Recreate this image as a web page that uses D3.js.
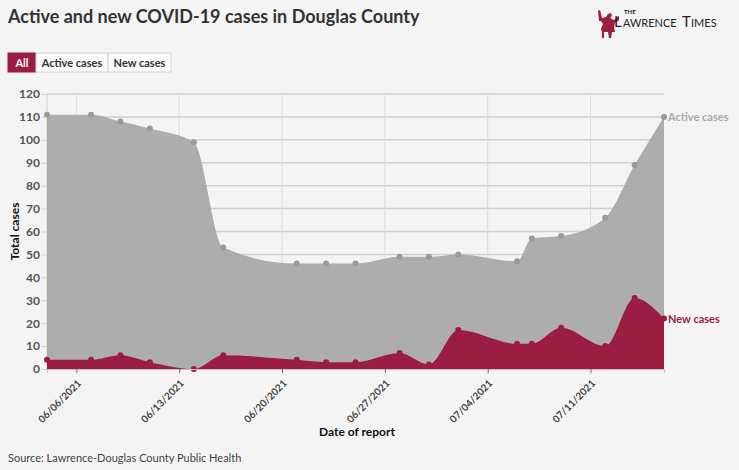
<!DOCTYPE html>
<html>
<head>
<meta charset="utf-8">
<script src="https://cdn.jsdelivr.net/npm/d3@7"></script>
<style>
  body { margin: 0; background: #f4f4f4; font-family: Lato, "Noto Sans", sans-serif; }
  svg text { font-family: Lato, "Noto Sans", sans-serif; }
</style>
</head>
<body>
<svg id="chart"></svg>
<script>
const dates = ["2021-06-04", "2021-06-07", "2021-06-09", "2021-06-11", "2021-06-14", "2021-06-16",
  "2021-06-21", "2021-06-23", "2021-06-25", "2021-06-28", "2021-06-30", "2021-07-02",
  "2021-07-06", "2021-07-07", "2021-07-09", "2021-07-12", "2021-07-14", "2021-07-16"];
const activeCases = [111, 111, 108, 105, 99, 53, 46, 46, 46, 49, 49, 50, 47, 57, 58, 66, 89, 110];
const newCases = [4, 4, 6, 3, 0, 6, 4, 3, 3, 7, 2, 17, 11, 11, 18, 10, 31, 22];
const xTicks = ["2021-06-06", "2021-06-13", "2021-06-20", "2021-06-27", "2021-07-04", "2021-07-11"];
const yTicks = [0, 10, 20, 30, 40, 50, 60, 70, 80, 90, 100, 110, 120];
const buttons = ["All", "Active cases", "New cases"];

const RED = "#9b1d42";
const GREY = "#a9a9a9";

const svg = d3.select("#chart")
svg.attr("width", 739)
svg.attr("height", 470)

const margin = {top: 94, right: 75, bottom: 101, left: 47};
const width = 739 - margin.left - margin.right;
const height = 470 - margin.top - margin.bottom;

const parse = d3.utcParse("%Y-%m-%d");
const data = dates.map((d, i) => ({date: parse(d), active: activeCases[i], cases: newCases[i]}));

const x = d3.scaleUtc()
    .domain(d3.extent(data, d => d.date))
    .range([0, width]);
const y = d3.scaleLinear().domain([0, 120]).range([height, 0]);

// title
svg.append("text")
    .attr("x", 8).attr("y", 23)
    .attr("font-size", 18).attr("font-weight", "bold")
    .attr("fill", "#333")
    .text("Active and new COVID-19 cases in Douglas County");

// buttons
const btnX = [8, 36, 108, 171];
buttons.forEach((b, i) => {
  const g = svg.append("g").attr("transform", "translate(" + btnX[i] + ",53)");
  g.append("rect")
      .attr("width", btnX[i + 1] - btnX[i]).attr("height", 19)
      .attr("fill", i == 0 ? RED : "#fafafa")
      .attr("stroke", i == 0 ? RED : "#d6d6d6");
  g.append("text")
      .attr("x", (btnX[i + 1] - btnX[i]) / 2).attr("y", 13.5)
      .attr("text-anchor", "middle")
      .attr("font-size", 11).attr("font-weight", "bold")
      .attr("fill", i == 0 ? "#fff" : "#333")
      .text(b);
});

// logo
const logo = svg.append("g").attr("transform", "translate(597,8)");
logo.append("path")
    .attr("fill", RED)
    .attr("d", "M1,3 L3,2 L5,10 L9,9 L11,6 L14,5 L15,8 L13,10 L17,12 L20,9 L22,8 L22,12 L18,15 L17,19 L18,24 L15,24 L14,30 L12,30 L11,24 L7,24 L7,30 L5,30 L5,24 L4,21 L6,16 L4,13 L2,13 Z");
logo.append("text")
    .attr("x", 17).attr("y", 19)
    .attr("font-family", "Liberation Serif").attr("font-size", 15)
    .attr("fill", "#222").text("L");
logo.append("text")
    .attr("x", 27).attr("y", 6)
    .attr("font-family", "Liberation Serif").attr("font-size", 6).attr("font-weight", "bold")
    .attr("fill", "#222").text("THE");
logo.append("text")
    .attr("x", 26).attr("y", 19)
    .attr("font-family", "Liberation Serif").attr("font-size", 11)
    .attr("fill", "#222").text("AWRENCE");
logo.append("text")
    .attr("x", 85).attr("y", 19)
    .attr("font-family", "Liberation Serif").attr("font-size", 15)
    .attr("fill", "#222").text("T");
logo.append("text")
    .attr("x", 94).attr("y", 19)
    .attr("font-family", "Liberation Serif").attr("font-size", 11)
    .attr("fill", "#222").text("IMES");

const g = svg.append("g")
    .attr("transform", "translate(" + margin.left + "," + margin.top + ")");

// gridlines
g.append("g").selectAll("line").data(yTicks).join("line")
    .attr("x1", 0).attr("x2", width)
    .attr("y1", d => y(d)).attr("y2", d => y(d))
    .attr("stroke", "#d0d0d0").attr("stroke-width", 1.5);
g.append("g").selectAll("line").data(xTicks).join("line")
    .attr("x1", d => x(parse(d))).attr("x2", d => x(parse(d)))
    .attr("y1", 0).attr("y2", height)
    .attr("stroke", "#dcdcdc").attr("stroke-width", 1);
g.append("line")
    .attr("x1", 0).attr("x2", 0).attr("y1", 0).attr("y2", height)
    .attr("stroke", "#d0d0d0");

const areaActive = d3.area()
    .curve(d3.curveMonotoneX)
    .x(d => x(d.date))
    .y0(height)
    .y1(d => y(d.active));
const areaNew = d3.area()
    .curve(d3.curveMonotoneX)
    .x(d => x(d.date))
    .y0(height)
    .y1(d => y(d.cases));

g.append("path").datum(data)
    .attr("fill", GREY).attr("fill-opacity", 0.95)
    .attr("d", areaActive);
g.append("path").datum(data)
    .attr("fill", RED)
    .attr("d", areaNew);

g.append("g").selectAll("circle").data(data).join("circle")
    .attr("cx", d => x(d.date)).attr("cy", d => y(d.active))
    .attr("r", 3).attr("fill", "#9a9a9a");
g.append("g").selectAll("circle").data(data).join("circle")
    .attr("cx", d => x(d.date)).attr("cy", d => y(d.cases))
    .attr("r", 3).attr("fill", RED);

// end labels
const last = data[data.length - 1];
g.append("text")
    .attr("x", x(last.date) + 4).attr("y", y(last.active) + 4)
    .attr("font-size", 11).attr("font-weight", "bold")
    .attr("fill", "#a9a9a9").text("Active cases");
g.append("text")
    .attr("x", x(last.date) + 4).attr("y", y(last.cases) + 4)
    .attr("font-size", 11).attr("font-weight", "bold")
    .attr("fill", RED).text("New cases");

// y axis
const yAxis = d3.axisLeft(y).tickValues(yTicks).tickSize(5).tickPadding(2);
const ya = g.append("g").call(yAxis);
ya.select(".domain").remove();
ya.selectAll("line").attr("stroke", "#d0d0d0");
ya.selectAll("text")
    .attr("font-size", 12).attr("font-weight", "bold")
    .attr("fill", "#555").attr("font-family", "Lato");

// x axis
const xAxis = d3.axisBottom(x)
    .tickValues(xTicks.map(parse))
    .tickSize(4)
    .tickFormat(d3.utcFormat("%m/%d/%Y"));
const xa = g.append("g")
    .attr("transform", "translate(0," + height + ")")
    .call(xAxis);
xa.select(".domain").attr("stroke", "#e0b8c4");
xa.selectAll("line").attr("stroke", "#666");
xa.selectAll("text")
    .attr("font-size", 10).attr("font-weight", "bold")
    .attr("fill", "#444").attr("font-family", "Lato")
    .attr("text-anchor", "end")
    .attr("dy", 0).attr("y", 0)
    .attr("transform", "translate(5,15) rotate(-45)");

// axis titles
svg.append("text")
    .attr("transform", "translate(18.5," + (margin.top + height / 2) + ") rotate(-90)")
    .attr("text-anchor", "middle")
    .attr("font-size", 12).attr("font-weight", "bold").attr("fill", "#111")
    .text("Total cases");
svg.append("text")
    .attr("x", 357).attr("y", 436)
    .attr("text-anchor", "middle")
    .attr("font-size", 12).attr("font-weight", "bold").attr("fill", "#111")
    .text("Date of report");

svg.append("text")
    .attr("x", 8).attr("y", 462)
    .attr("font-size", 11).attr("fill", "#444")
    .text("Source: Lawrence-Douglas County Public Health");
</script>
</body>
</html>
